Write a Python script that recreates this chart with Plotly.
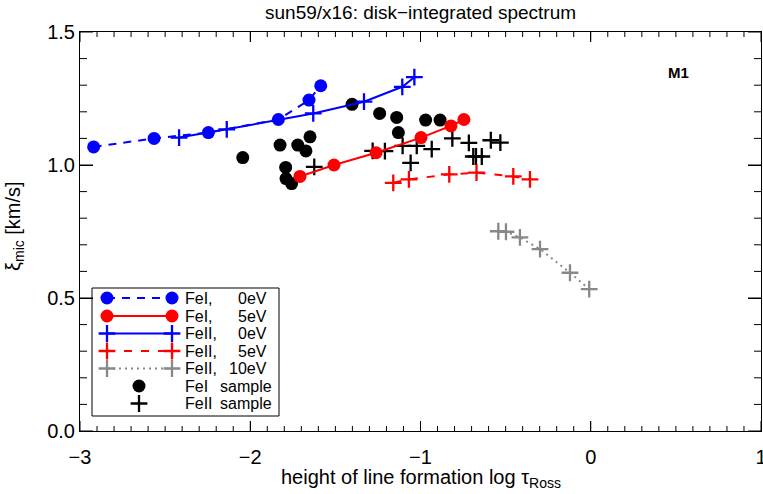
import plotly.graph_objects as go

# ---------------- data ----------------
fe1_0ev_x = [-2.92, -2.565, -2.246, -1.835, -1.655, -1.586]
fe1_0ev_y = [1.068, 1.100, 1.122, 1.171, 1.244, 1.298]

fe1_5ev_x = [-1.708, -1.508, -1.261, -0.997, -0.821, -0.745]
fe1_5ev_y = [0.957, 1.000, 1.046, 1.103, 1.147, 1.171]

fe2_0ev_x = [-2.418, -2.138, -1.630, -1.332, -1.107, -1.036]
fe2_0ev_y = [1.103, 1.134, 1.194, 1.238, 1.294, 1.330]

fe2_5ev_x = [-1.160, -1.068, -0.831, -0.671, -0.455, -0.357]
fe2_5ev_y = [0.933, 0.946, 0.965, 0.971, 0.957, 0.946]

fe2_10ev_x = [-0.543, -0.498, -0.416, -0.298, -0.122, -0.009]
fe2_10ev_y = [0.751, 0.749, 0.728, 0.684, 0.595, 0.533]

fe1_sample_x = [-2.044, -1.825, -1.721, -1.673, -1.649, -1.792, -1.790, -1.757,
                -1.402, -1.240, -1.140, -1.130, -0.970, -0.885]
fe1_sample_y = [1.028, 1.075, 1.075, 1.053, 1.106, 0.991, 0.949, 0.930,
                1.228, 1.194, 1.179, 1.122, 1.169, 1.169]

fe2_sample_x = [-1.624, -1.281, -1.209, -1.105, -1.022, -0.934, -1.058, -0.813,
                -0.716, -0.690, -0.674, -0.640, -0.587, -0.531]
fe2_sample_y = [0.993, 1.053, 1.052, 1.072, 1.072, 1.060, 1.008, 1.100,
                1.083, 1.032, 1.032, 1.032, 1.093, 1.084]

x_ticks = [-3, -2, -1, 0, 1]
y_ticks = [0.0, 0.5, 1.0, 1.5]
y_ticktext = ["0.0", "0.5", "1.0", "1.5"]
x_minor_step = 0.1
y_minor_step = 0.1

title_text = "sun59/x16: disk\u2212integrated spectrum"
xtitle_text = "height of line formation log \u03c4<sub>Ross</sub>"
ytitle_text = "\u03be<sub>mic</sub> [km/s]"
model_label = "<b>M1</b>"

legend_rows = [
    ("FeI,", "0eV"),
    ("FeI,", "5eV"),
    ("FeII,", "0eV"),
    ("FeII,", "5eV"),
    ("FeII,", "10eV"),
    ("FeI", "sample"),
    ("FeII", "sample"),
]

# ---------------- layout geometry (pixels) ----------------
W, H = 763, 494
X0, X1 = 80, 761        # pixel columns of x=-3 and x=1
Y0, Y1 = 431, 32        # pixel rows of y=0 and y=1.5
XMIN, XMAX = -3.0, 1.0
YMIN, YMAX = 0.0, 1.5
FONT = "Liberation Sans, Arial, Helvetica, sans-serif"

BLUE = "#0000ff"
RED = "#ff0000"
GRAY = "#888888"
BLACK = "#000000"


def px(xp):
    return (xp - X0) / (X1 - X0)


def py(yp):
    return (Y0 - yp) / (Y0 - Y1)


def dx(xp):
    return XMIN + px(xp) * (XMAX - XMIN)


def dy(yp):
    return YMIN + py(yp) * (YMAX - YMIN)


def mk_for(sym, col):
    if sym == "circle":
        return dict(color=col, symbol="circle", size=13, line=dict(width=0))
    return dict(color=col, symbol="cross-thin", size=12, line=dict(width=2.3, color=col))


fig = go.Figure()

# samples
fig.add_trace(go.Scatter(x=fe1_sample_x, y=fe1_sample_y, mode="markers",
                         marker=mk_for("circle", BLACK), showlegend=False))
fig.add_trace(go.Scatter(x=fe2_sample_x, y=fe2_sample_y, mode="markers",
                         marker=mk_for("plus", BLACK), showlegend=False))

series = [
    (fe1_0ev_x, fe1_0ev_y, BLUE, "8px,7px", "circle"),
    (fe1_5ev_x, fe1_5ev_y, RED, "solid", "circle"),
    (fe2_0ev_x, fe2_0ev_y, BLUE, "solid", "plus"),
    (fe2_5ev_x, fe2_5ev_y, RED, "8px,9px", "plus"),
    (fe2_10ev_x, fe2_10ev_y, GRAY, "2px,4px", "plus"),
]

for sx, sy, col, dash, sym in series:
    fig.add_trace(go.Scatter(x=sx, y=sy, mode="lines+markers",
                             line=dict(color=col, width=2, dash=dash),
                             marker=mk_for(sym, col), showlegend=False))

# ---------------- hand-built legend ----------------
row_y = [298, 316, 333.5, 351, 368.5, 386, 403.5]
lx0, lx1, lxc = 107, 172, 139
for i, (sx, sy, col, dash, sym) in enumerate(series):
    fig.add_trace(go.Scatter(x=[dx(lx0), dx(lx1)], y=[dy(row_y[i])] * 2,
                             mode="lines+markers", line=dict(color=col, width=2, dash=dash),
                             marker=mk_for(sym, col), showlegend=False, hoverinfo="skip"))
fig.add_trace(go.Scatter(x=[dx(lxc)], y=[dy(row_y[5])], mode="markers",
                         marker=mk_for("circle", BLACK), showlegend=False, hoverinfo="skip"))
fig.add_trace(go.Scatter(x=[dx(lxc)], y=[dy(row_y[6])], mode="markers",
                         marker=mk_for("plus", BLACK), showlegend=False, hoverinfo="skip"))

LEGFONT = dict(size=16, family=FONT, color=BLACK)
annotations = []
for i, (a, b) in enumerate(legend_rows):
    annotations.append(dict(text=a, x=px(183), y=py(row_y[i]), xref="paper", yref="paper",
                            xanchor="left", yanchor="middle", showarrow=False, font=LEGFONT))
    if b == "sample":
        annotations.append(dict(text=b, x=px(218), y=py(row_y[i]), xref="paper", yref="paper",
                                xanchor="left", yanchor="middle", showarrow=False, font=LEGFONT))
    else:
        annotations.append(dict(text=b, x=px(269), y=py(row_y[i]), xref="paper", yref="paper",
                                xanchor="right", yanchor="middle", showarrow=False, font=LEGFONT))

annotations += [
    dict(text=title_text, x=0.5, y=py(13), xref="paper", yref="paper", xanchor="center",
         yanchor="middle", showarrow=False, font=dict(size=19, family=FONT, color=BLACK)),
    dict(text=xtitle_text, x=px(421), y=py(478), xref="paper", yref="paper", xanchor="center",
         yanchor="middle", showarrow=False, font=dict(size=20, family=FONT, color=BLACK)),
    dict(text=ytitle_text, x=px(14), y=py(226), xref="paper", yref="paper", xanchor="center",
         yanchor="middle", textangle=-90, showarrow=False,
         font=dict(size=20, family=FONT, color=BLACK)),
    dict(text=model_label, x=px(678), y=py(72), xref="paper", yref="paper", xanchor="center",
         yanchor="middle", showarrow=False, font=dict(size=15, family=FONT, color=BLACK)),
]

shapes = [dict(type="rect", xref="paper", yref="paper", x0=px(92), x1=px(279),
               y0=py(416), y1=py(288), line=dict(color=BLACK, width=1))]

# ---------------- inward tick marks on all four sides (axis scales, pixel lengths) ----
TICK = dict(color=BLACK, width=1)


def x_tick(val, length):
    for anchor, sgn in ((0, 1), (1, -1)):
        shapes.append(dict(type="line", xref="x", yref="paper", x0=val, x1=val,
                           ysizemode="pixel", yanchor=anchor, y0=0, y1=sgn * length,
                           line=TICK, layer="above"))


def y_tick(val, length):
    for anchor, sgn in ((0, 1), (1, -1)):
        shapes.append(dict(type="line", xref="paper", yref="y", y0=val, y1=val,
                           xsizemode="pixel", xanchor=anchor, x0=0, x1=sgn * length,
                           line=TICK, layer="above"))


n_x = int(round((XMAX - XMIN) / x_minor_step))
for k in range(n_x + 1):
    v = round(XMIN + k * x_minor_step, 6)
    if any(abs(v - t) < 1e-6 for t in x_ticks):
        x_tick(v, 10)
    else:
        x_tick(v, 5)

n_y = int(round((YMAX - YMIN) / y_minor_step))
for k in range(n_y + 1):
    v = round(YMIN + k * y_minor_step, 6)
    if any(abs(v - t) < 1e-6 for t in y_ticks):
        y_tick(v, 13)
    else:
        y_tick(v, 7)

fig.update_layout(
    width=W, height=H,
    margin=dict(l=X0, r=W - X1, t=Y1, b=H - Y0, autoexpand=False),
    paper_bgcolor="white", plot_bgcolor="white",
    font=dict(family=FONT, color=BLACK),
    xaxis=dict(range=[XMIN, XMAX], tickvals=x_ticks,
               ticks="inside", ticklen=10, tickwidth=1, tickcolor=BLACK,
               showline=True, linecolor=BLACK, linewidth=1, mirror="ticks",
               showgrid=False, zeroline=False,
               ticklabelstandoff=8, ticklabeloverflow="allow",
               tickfont=dict(size=20, family=FONT, color=BLACK)),
    yaxis=dict(range=[YMIN, YMAX], tickvals=y_ticks, ticktext=y_ticktext,
               ticks="inside", ticklen=13, tickwidth=1, tickcolor=BLACK,
               showline=True, linecolor=BLACK, linewidth=1, mirror="ticks",
               showgrid=False, zeroline=False,
               tickfont=dict(size=20, family=FONT, color=BLACK)),
    annotations=annotations,
    shapes=shapes,
)

fig.write_html("out.html")
